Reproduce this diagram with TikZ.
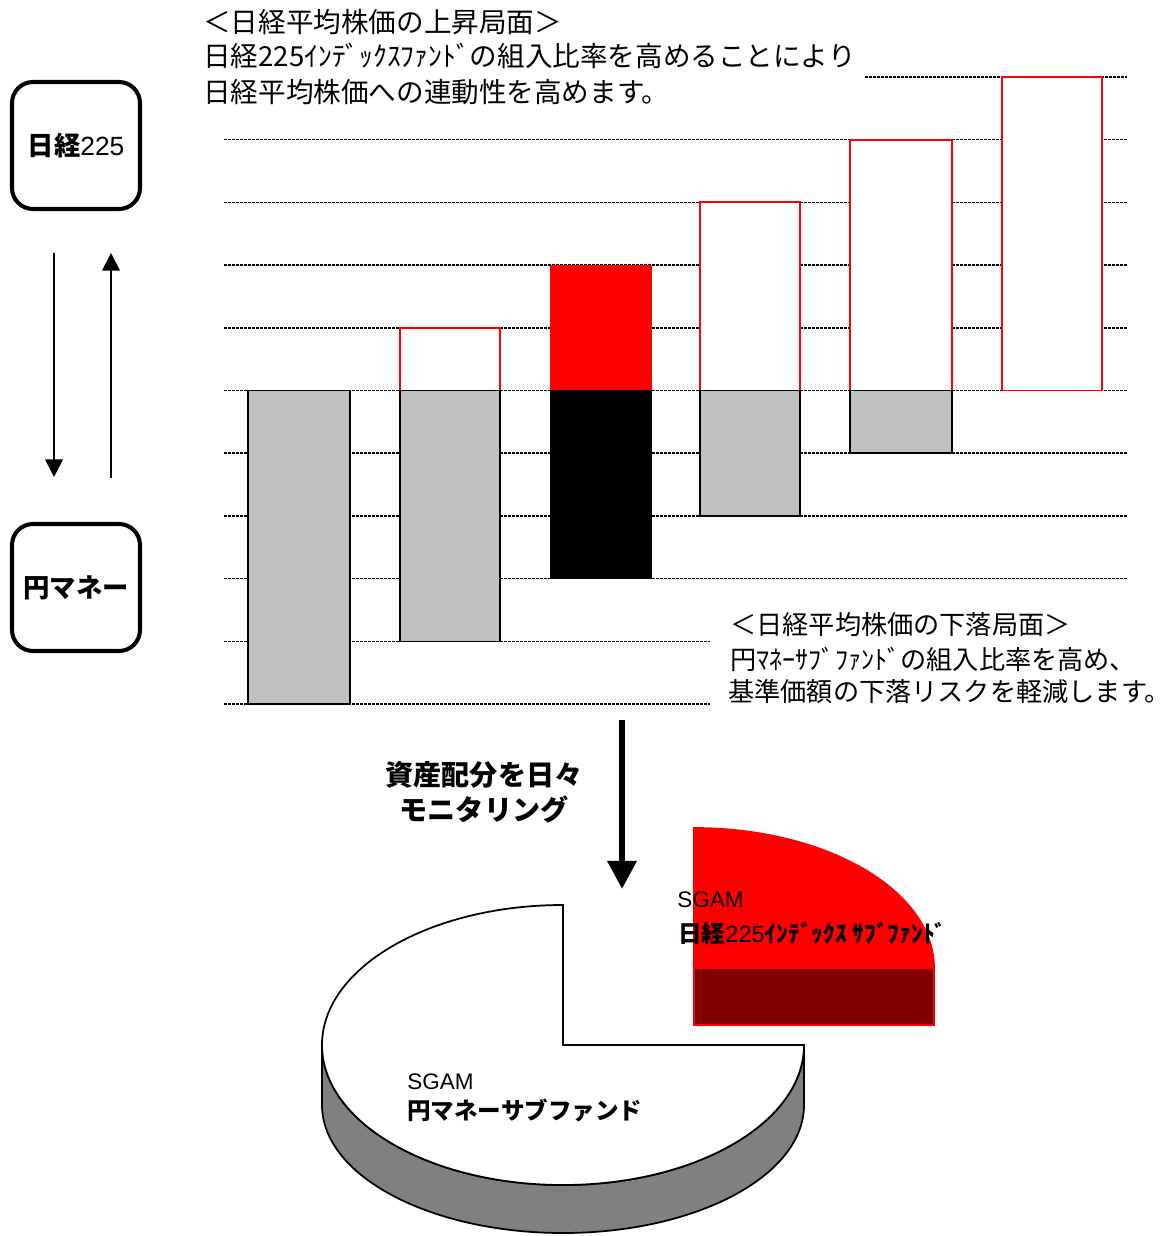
\documentclass[tikz,border=0pt]{standalone}
\usepackage{fontspec}
\setmainfont{Liberation Sans}
\newfontfamily\jp{Noto Sans CJK JP}
\usetikzlibrary{arrows.meta}
\definecolor{lgray}{RGB}{192,192,192}
\definecolor{dgray}{RGB}{128,128,128}
\definecolor{dred}{RGB}{128,0,0}
\begin{document}
\begin{tikzpicture}[x=0.02cm,y=-0.02cm,
  gridline/.style={line width=0.8pt, dash pattern=on 1.707pt off 0.569pt, black},
  bargray/.style={fill=lgray, draw=black, line width=0.9pt},
  barred/.style={fill=white, draw=red, line width=1.1pt},
  barblack/.style={fill=black, draw=black, line width=0.5pt},
  barredfill/.style={fill=red, draw=red, line width=0.5pt},
  keybox/.style={draw, line width=2.3pt, rounded corners=0.42cm, minimum width=2.56cm, minimum height=2.54cm, inner sep=0pt},
  jtext/.style={font=\jp\fontsize{15.7pt}{19pt}\selectfont, anchor=west, inner sep=0pt},
  jtextb/.style={font=\jp\fontsize{14.9pt}{19pt}\selectfont, anchor=west, inner sep=0pt},
  midtext/.style={font=\jp\bfseries\fontsize{16pt}{20pt}\selectfont, align=center, inner sep=0pt},
  sgam/.style={font=\fontsize{12.8pt}{15pt}\selectfont, anchor=west, inner sep=0pt},
  pielabel/.style={font=\jp\bfseries\fontsize{13.4pt}{15pt}\selectfont, anchor=west, inner sep=0pt},
  thinarrow/.style={line width=1pt, -{Triangle[length=10pt,width=10pt]}},
  bigarrow/.style={line width=3.6pt, -{Triangle[length=16pt,width=16pt]}}
]
\useasboundingbox (0,0) rectangle (1175,1236);

% grid lines
\draw[gridline] (865,77) -- (1127,77);
\foreach \k in {1,...,8} \draw[gridline] (224,{77+62.7*\k}) -- (1127,{77+62.7*\k});
\foreach \k in {9,10} \draw[gridline] (224,{77+62.7*\k}) -- (710,{77+62.7*\k});

% bars
\def\yy#1{77+62.7*#1}
\draw[bargray] (248,{\yy{5}}) rectangle (350,{\yy{10}});
\draw[barred] (400,{\yy{4}}) rectangle (500,{\yy{5}});
\draw[bargray] (400,{\yy{5}}) rectangle (500,{\yy{9}});
\draw[barredfill] (550,{\yy{3}}) rectangle (651,{\yy{5}});
\draw[barblack] (550,{\yy{5}}) rectangle (651,{\yy{8}});
\draw[barred] (700,{\yy{2}}) rectangle (800,{\yy{5}});
\draw[bargray] (700,{\yy{5}}) rectangle (800,{\yy{7}});
\draw[barred] (850,{\yy{1}}) rectangle (952,{\yy{5}});
\draw[bargray] (850,{\yy{5}}) rectangle (952,{\yy{6}});
\draw[barred] (1002,{\yy{0}}) rectangle (1102,{\yy{5}});

% texts
\node[jtext] (t1) at (203,22) {＜日経平均株価の上昇局面＞};
\node[jtext] (t2) at (203,56) {日経225ｲﾝﾃﾞｯｸｽﾌｧﾝﾄﾞの組入比率を高めることにより};
\node[jtext] (t3) at (203,92) {日経平均株価への連動性を高めます。};
\node[jtextb] (b1) at (730,625) {＜日経平均株価の下落局面＞};
\node[jtextb] (b2) at (730,659) {円ﾏﾈｰｻﾌﾞﾌｧﾝﾄﾞの組入比率を高め、};
\node[jtextb] (b3) at (728,692) {基準価額の下落リスクを軽減します。};

% left boxes
\node[keybox] (nk) at (76,145.5) {{\jp\bfseries\fontsize{15pt}{18pt}\selectfont 日経}{\fontsize{15pt}{18pt}\selectfont 225}};
\node[keybox] (ym) at (76,587.5) {{\jp\bfseries\fontsize{15pt}{18pt}\selectfont 円マネー}};
\coordinate (a1s) at (54,253);
\coordinate (a1e) at (54,477);
\coordinate (a2s) at (111,478);
\coordinate (a2e) at (111,253);
\draw[thinarrow] (a1s) -- (a1e);
\draw[thinarrow] (a2s) -- (a2e);

% middle
\node[midtext] (mon) at (484,792) {資産配分を日々\\モニタリング};
\coordinate (bas) at (622,720);
\coordinate (bae) at (622,889);
\draw[bigarrow] (bas) -- (bae);

% pie: side
\draw[fill=dgray, draw=black, line width=1pt]
  (804,1045) -- (804,1105) arc[start angle=0, end angle=180, x radius=241, y radius=128]
  -- (322,1045) arc[start angle=180, end angle=0, x radius=241, y radius=140] -- cycle;
% pie: top
\draw[fill=white, draw=black, line width=1pt]
  (563,1045) -- (563,905) arc[start angle=-90, end angle=-360, x radius=241, y radius=140] -- cycle;

% exploded slice
\draw[fill=dred, draw=red, line width=1.6pt] (694,968) rectangle (934,1025);
\draw[fill=red, draw=red, line width=1pt]
  (694,968) -- (694,828) arc[start angle=-90, end angle=0, x radius=240, y radius=140] -- cycle;

% pie labels
\node[sgam] (s1) at (677,900) {SGAM};
\node[pielabel] (l1) at (678,933) {日経{\normalfont\fontsize{13.4pt}{15pt}\selectfont 225}ｲﾝﾃﾞｯｸｽ ｻﾌﾞﾌｧﾝﾄﾞ};
\node[sgam] (s2) at (407,1082) {SGAM};
\node[pielabel] (l2) at (407,1110) {円マネーサブファンド};
\end{tikzpicture}
\end{document}
